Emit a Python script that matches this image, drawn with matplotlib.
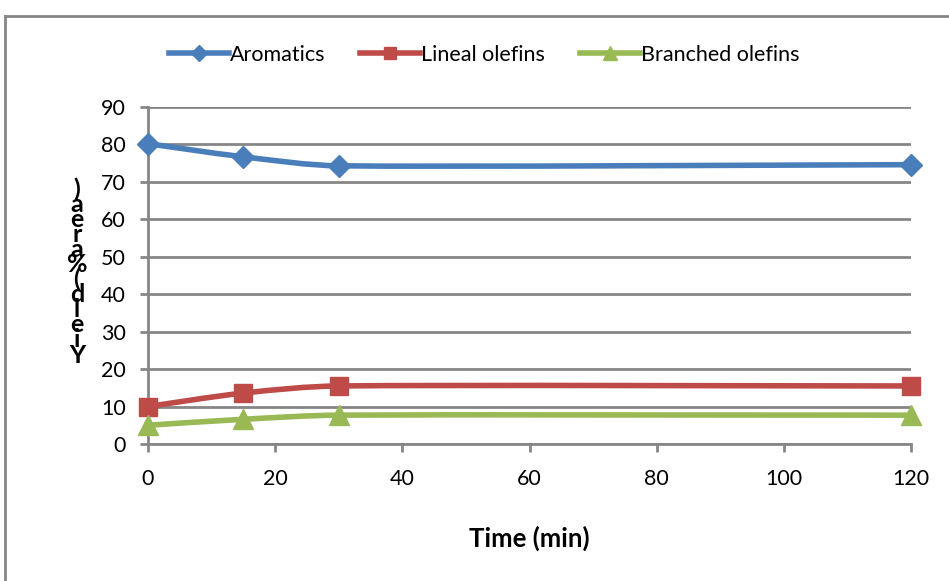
"""Yield vs time for aromatics / lineal / branched olefins (Excel-style smoothed lines)."""

import matplotlib
matplotlib.use("Agg")
import matplotlib.pyplot as plt
from matplotlib.lines import Line2D
from matplotlib.path import Path
from matplotlib.patches import PathPatch
import numpy as np

time_min = [0, 15, 30, 120]
aromatics = [80.2, 76.7, 74.3, 74.6]
lineal_olefins = [10.0, 13.6, 15.5, 15.5]
branched_olefins = [5.0, 6.6, 7.7, 7.7]

_BLUE = "#4A7EBB"
_RED = "#BE4B48"
_GREEN = "#98B954"
_GRID = "#868686"

plt.rcParams["font.family"] = ["Lato", "DejaVu Sans"]


def _smooth_path(x, y):
    # Excel-like smoothed line: cubic Bezier through the points, with the
    # handle length capped at a third of each neighbouring segment.
    pts = np.column_stack([x, y]).astype(float)
    ext = np.vstack([pts[0], pts, pts[-1]])
    tang = (ext[2:] - ext[:-2]) / 6.0
    verts = [tuple(pts[0])]
    codes = [Path.MOVETO]
    for i in range(len(pts) - 1):
        seg = pts[i + 1, 0] - pts[i, 0]
        t1, t2 = tang[i].copy(), tang[i + 1].copy()
        if t1[0] > seg / 3:
            t1 *= (seg / 3) / t1[0]
        if t2[0] > seg / 3:
            t2 *= (seg / 3) / t2[0]
        verts += [tuple(pts[i] + t1), tuple(pts[i + 1] - t2), tuple(pts[i + 1])]
        codes += [Path.CURVE4] * 3
    return Path(verts, codes)


fig = plt.figure(figsize=(9.49, 5.81), dpi=100)
ax = fig.add_axes([148 / 949, 1 - 444 / 581, (911 - 148) / 949, (444 - 107) / 581])

series = [
    (aromatics, _BLUE, "D", 11, "Aromatics"),
    (lineal_olefins, _RED, "s", 13, "Lineal olefins"),
    (branched_olefins, _GREEN, "^", 14, "Branched olefins"),
]
handles = []
for vals, colour, marker, ms, label in series:
    ax.add_patch(PathPatch(_smooth_path(time_min, vals), facecolor="none",
                           edgecolor=colour, linewidth=4, capstyle="round",
                           zorder=3))
    ax.plot(time_min, vals, linestyle="none", marker=marker, markersize=ms,
            color=colour, zorder=4, clip_on=False)
    handles.append(Line2D([0], [0], color=colour, linewidth=4, marker=marker,
                          markersize=ms * 0.7, label=label))

ax.set_xlim(0, 120)
ax.set_ylim(0, 90)
ax.set_xticks(range(0, 121, 20))
ax.set_yticks(range(0, 91, 10))
ax.grid(True, axis="y", color=_GRID, linewidth=2)
ax.set_axisbelow(True)
for side in ("top", "right"):
    ax.spines[side].set_visible(False)
for side in ("left", "bottom"):
    ax.spines[side].set_color(_GRID)
    ax.spines[side].set_linewidth(2)
ax.tick_params(axis="both", direction="out", length=6, width=2,
               color=_GRID, labelsize=15.5)
ax.tick_params(axis="y", pad=10)
ax.tick_params(axis="x", pad=12)

ax.set_xlabel("Time (min)", fontsize=18.5, fontweight="bold", va="center")
ax.xaxis.set_label_coords(0.5, -(538 - 444) / (444 - 107))

# stacked, overlapping y label as in the original
label = "Yield(%area)"
fig.text(77 / 949, 1 - 272 / 581, "\n".join(reversed(label)), ha="center",
         va="center", fontsize=18, fontweight="bold", linespacing=0.58)

fig.legend(handles=handles, loc="center", ncol=3, frameon=False,
           bbox_to_anchor=(484 / 949, 1 - 55 / 581), fontsize=15.5,
           handlelength=2.8, handletextpad=0.05, columnspacing=1.6)

# chart area border (left and top edges visible)
fig.add_artist(Line2D([5 / 949, 5 / 949], [0, 1 - 16 / 581], color=_GRID,
                      linewidth=2, transform=fig.transFigure))
fig.add_artist(Line2D([5 / 949, 1], [1 - 16 / 581, 1 - 16 / 581], color=_GRID,
                      linewidth=2, transform=fig.transFigure))

fig.savefig("out.png", dpi=100)
